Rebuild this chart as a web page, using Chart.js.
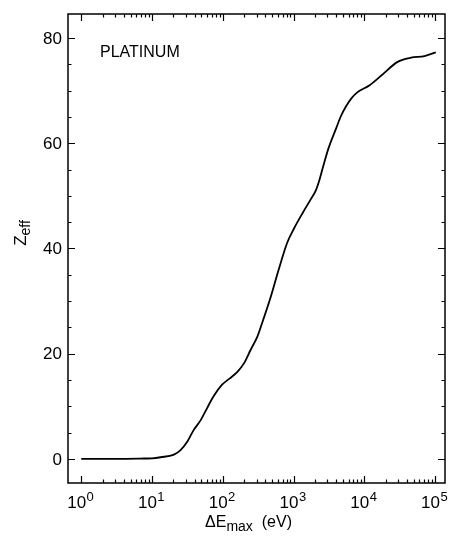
<!DOCTYPE html>
<html>
<head>
<meta charset="utf-8">
<script src="https://cdn.jsdelivr.net/npm/chart.js@4/dist/chart.umd.min.js"></script>
<style>
  body { margin: 0; background: #fff; }
  #wrap { width: 449px; height: 548px; position: relative; }
</style>
</head>
<body>
<div id="wrap"><canvas id="zeff-chart"></canvas></div>
<script>
// Data
var energy = [1, 3.2, 6.9, 10, 13.2, 20.4, 25.1, 31.6, 38.9, 49, 60.3, 74.1, 97.7, 123, 162, 200, 245, 309, 347, 479,
  617, 813, 1023, 1349, 1738, 2042, 2291, 2630, 3090, 3981, 4677, 5495, 6607, 7943, 11749, 17378, 29512, 45709, 70795, 102329];
var zeff = [0, 0, 0.05, 0.1, 0.3, 0.8, 1.6, 3.3, 5.5, 7.4, 9.7, 11.9, 14.1, 15.2, 16.6, 18.2, 20.6, 23.3, 25.2, 30.9,
  36, 41.1, 43.9, 46.8, 49.3, 50.9, 52.8, 55.7, 58.9, 62.8, 65.2, 67.0, 68.6, 69.7, 71.0, 72.9, 75.5, 76.3, 76.6, 77.3];
var xExponents = [0, 1, 2, 3, 4, 5];
var yTicks = [0, 20, 40, 60, 80];
var yMinorStep = 5;
var label = 'PLATINUM';

var points = [];
for (let i = 0; i < energy.length; i++) {
  points.push({ x: energy[i], y: zeff[i] });
}

var fontName = '"Liberation Sans", Arial, Helvetica, sans-serif';

// frame, inward ticks, tick labels and axis titles
var framePlugin = {
  id: 'frame',
  afterDraw: function (chart) {
    var ctx = chart.ctx;
    var a = chart.chartArea;
    var xs = chart.scales.x;
    var ys = chart.scales.y;
    ctx.save();
    ctx.strokeStyle = '#000';
    ctx.lineWidth = 1.5;
    ctx.strokeRect(a.left, a.top, a.right - a.left, a.bottom - a.top);

    ctx.lineWidth = 1.2;
    ctx.beginPath();
    // x ticks, top and bottom
    for (let e = 0; e <= 5; e++) {
      for (let m = 1; m <= 9; m++) {
        var v = m * Math.pow(10, e);
        if (v < xs.min || v > xs.max) continue;
        var px = Math.round(xs.getPixelForValue(v)) + 0.5;
        var len = m === 1 ? 7 : 3.5;
        ctx.moveTo(px, a.bottom); ctx.lineTo(px, a.bottom - len);
        ctx.moveTo(px, a.top); ctx.lineTo(px, a.top + len);
      }
    }
    // y ticks, left and right
    for (let v = 0; v <= 80; v += yMinorStep) {
      var py = Math.round(ys.getPixelForValue(v)) + 0.5;
      var len2 = v % 20 === 0 ? 7 : 3.5;
      ctx.moveTo(a.left, py); ctx.lineTo(a.left + len2, py);
      ctx.moveTo(a.right, py); ctx.lineTo(a.right - len2, py);
    }
    ctx.stroke();

    ctx.fillStyle = '#000';
    // y tick labels
    ctx.font = '17px ' + fontName;
    ctx.textAlign = 'right';
    ctx.textBaseline = 'middle';
    yTicks.forEach(function (t) {
      ctx.fillText(String(t), a.left - 6, ys.getPixelForValue(t) + 1);
    });

    // x tick labels with superscripts
    xExponents.forEach(function (e) {
      var px = xs.getPixelForValue(Math.pow(10, e));
      ctx.font = '17px ' + fontName;
      var w1 = ctx.measureText('10').width;
      ctx.font = '13px ' + fontName;
      var w2 = ctx.measureText(String(e)).width;
      var x0 = px - (w1 + w2) / 2 - 1;
      ctx.textAlign = 'left';
      ctx.textBaseline = 'alphabetic';
      ctx.font = '17px ' + fontName;
      ctx.fillText('10', x0, 508);
      ctx.font = '13px ' + fontName;
      ctx.fillText(String(e), x0 + w1 + 0.5, 501);
    });

    // x title: ΔEmax (eV)
    ctx.font = '16px ' + fontName;
    var p1 = '\u0394E';
    var p2 = 'max';
    var p3 = '  (eV)';
    var wa = ctx.measureText(p1).width;
    var wc = ctx.measureText(p3).width;
    ctx.font = '14px ' + fontName;
    var wb = ctx.measureText(p2).width;
    var xc = (a.left + a.right) / 2 - 8;
    var xs0 = xc - (wa + wb + wc) / 2;
    ctx.font = '16px ' + fontName;
    ctx.fillText(p1, xs0, 527);
    ctx.font = '14px ' + fontName;
    ctx.fillText(p2, xs0 + wa, 531);
    ctx.font = '16px ' + fontName;
    ctx.fillText(p3, xs0 + wa + wb, 527);

    // y title: Zeff, rotated
    ctx.save();
    ctx.translate(26, 233);
    ctx.rotate(-Math.PI / 2);
    ctx.font = '17px ' + fontName;
    var wz = ctx.measureText('Z').width;
    ctx.font = '14px ' + fontName;
    var we = ctx.measureText('eff').width;
    var sx = -(wz + we) / 2;
    ctx.font = '17px ' + fontName;
    ctx.fillText('Z', sx, 0);
    ctx.font = '14px ' + fontName;
    ctx.fillText('eff', sx + wz, 4);
    ctx.restore();

    // inner label
    ctx.font = '16px ' + fontName;
    ctx.textAlign = 'left';
    ctx.textBaseline = 'middle';
    ctx.fillText(label, 100, 53);
    ctx.restore();
  }
};

var ctx = document.getElementById('zeff-chart').getContext('2d');
var zChart = new Chart(ctx, {
  type: 'line',
  data: {
    datasets: [{
      data: points,
      borderColor: '#000',
      borderWidth: 1.8,
      pointRadius: 0,
      fill: false,
      cubicInterpolationMode: 'monotone'
    }]
  },
  options: {
    responsive: true,
    maintainAspectRatio: false,
    animation: false,
    layout: { padding: { left: 68, right: 4, top: 14, bottom: 65 } },
    plugins: { legend: { display: false }, tooltip: { enabled: false } },
    scales: {
      x: {
        type: 'logarithmic',
        min: 0.65,
        max: 138000,
        grid: { display: false, drawTicks: false },
        border: { display: false },
        ticks: { display: false }
      },
      y: {
        type: 'linear',
        min: -4.6,
        max: 84.6,
        grid: { display: false, drawTicks: false },
        border: { display: false },
        ticks: { display: false }
      }
    }
  },
  plugins: [framePlugin]
});
</script>
</body>
</html>
